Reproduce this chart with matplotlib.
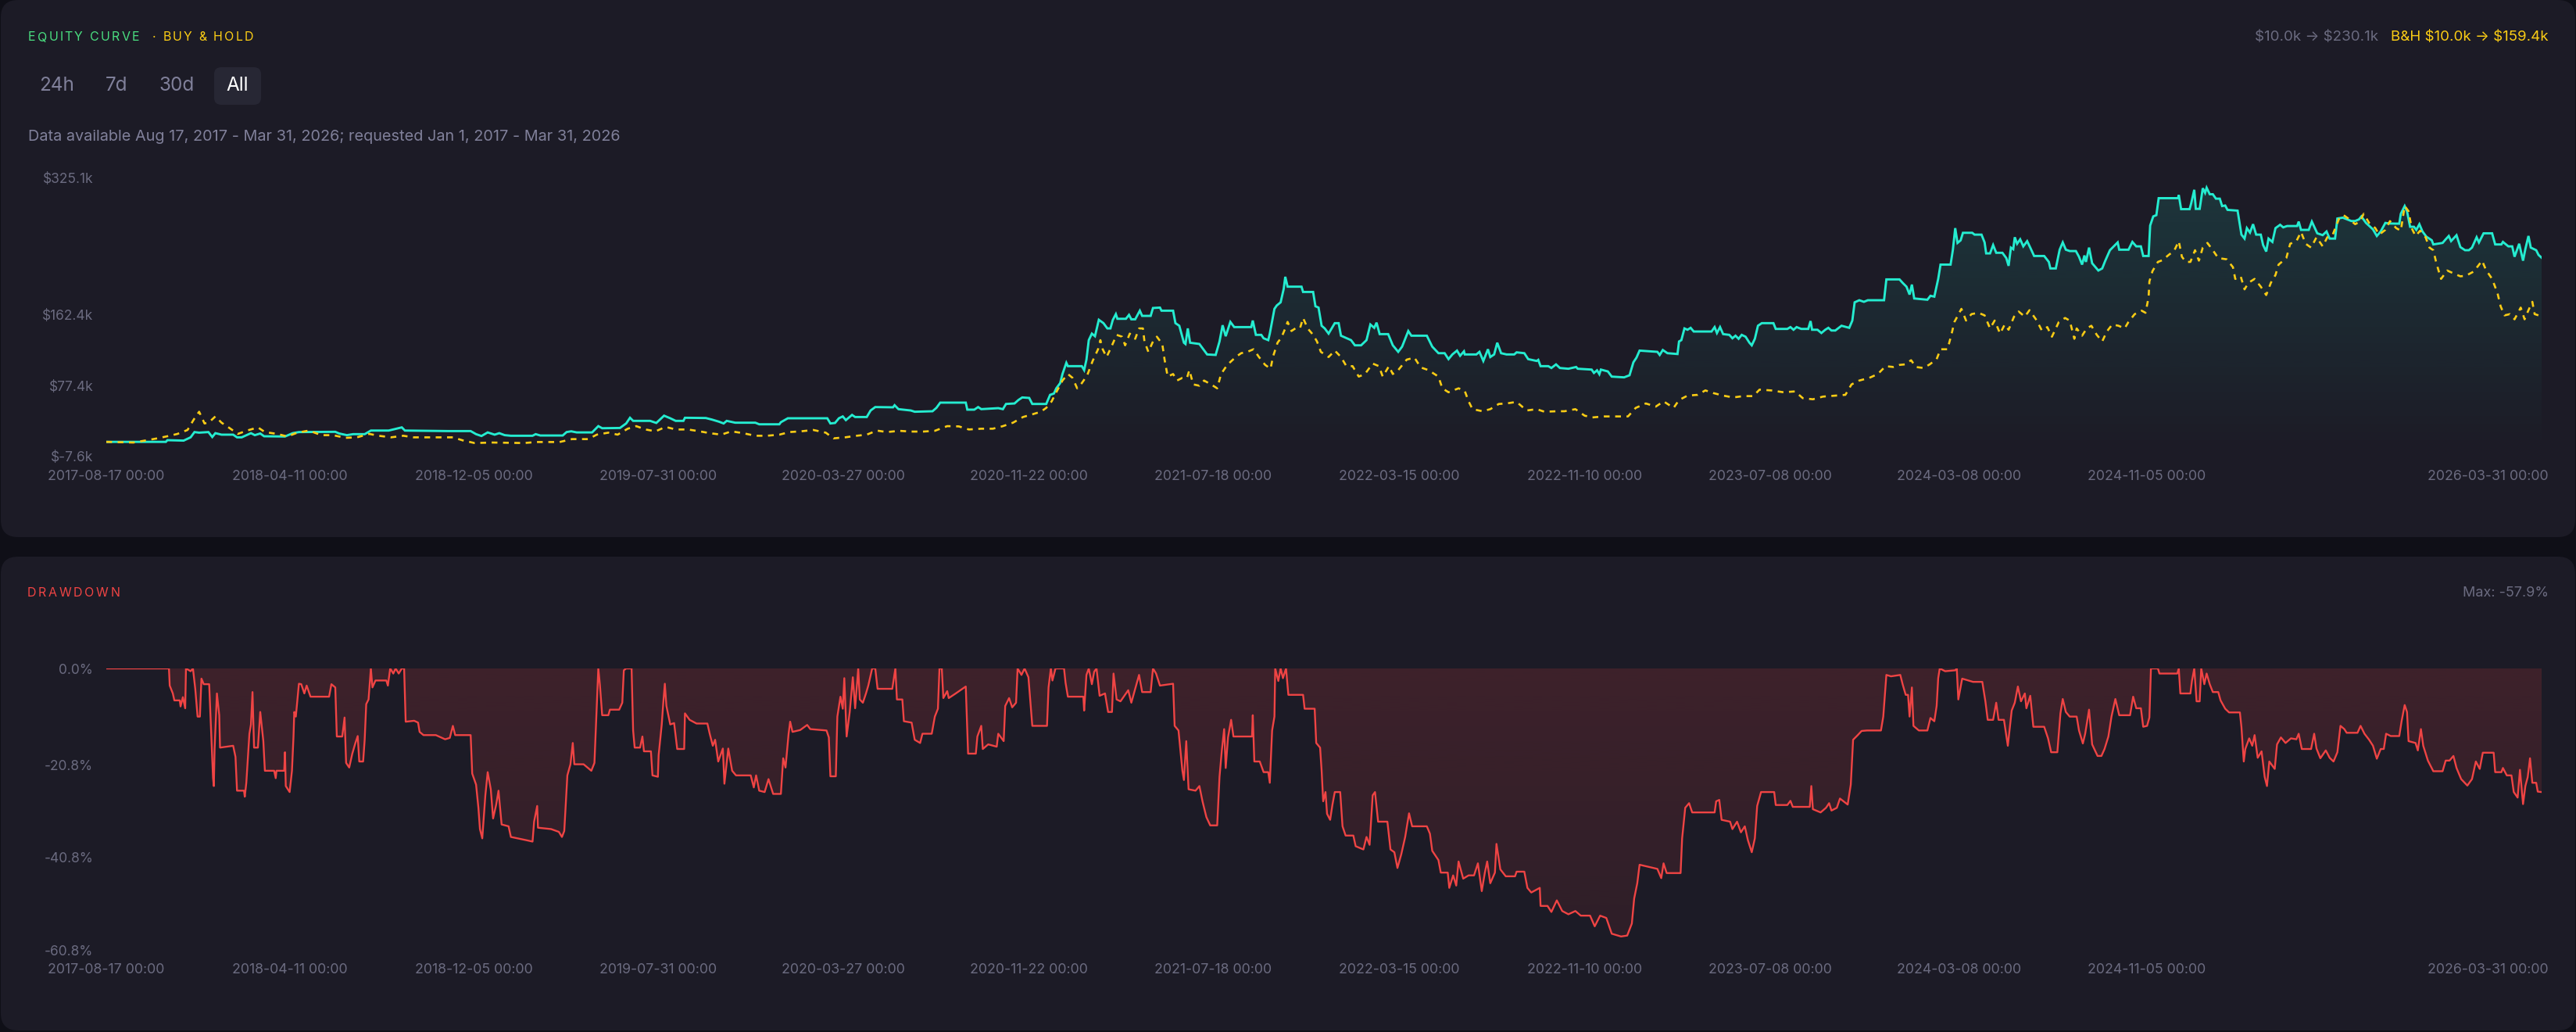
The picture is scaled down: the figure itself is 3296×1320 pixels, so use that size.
import numpy as np
import pandas as pd
import matplotlib
matplotlib.use("Agg")
import matplotlib.pyplot as plt
import matplotlib.dates as mdates
import matplotlib.colors as mcolors
from matplotlib.patches import FancyBboxPatch
from matplotlib.transforms import ScaledTranslation

plt.rcParams['font.family'] = ['Inter', 'DejaVu Sans']

# ---- data (days since START, value) ----
START = "2017-08-17"
END_DAY = 3148

tick_dates = ["2017-08-17", "2018-04-11", "2018-12-05", "2019-07-31", "2020-03-27",
              "2020-11-22", "2021-07-18", "2022-03-15", "2022-11-10", "2023-07-08",
              "2024-03-08", "2024-11-05", "2026-03-31"]

eq_ticks = [-7.6, 77.4, 162.4, 325.1]
eq_tick_labels = ["$-7.6k", "$77.4k", "$162.4k", "$325.1k"]
dd_ticks = [0.0, -20.8, -40.8, -60.8]
dd_tick_labels = ["0.0%", "-20.8%", "-40.8%", "-60.8%"]

# strategy equity, $k
equity_pts = [
    (0, 10.0), (77, 10.0), (79, 12.0), (100, 11.5), (109, 15.4), (114, 21.7), (120, 21.0), (132, 21.7),
    (137, 15.8), (141, 20.4), (149, 18.6), (164, 18.6), (169, 15.4), (175, 15.4), (187, 20.4), (192, 18.0),
    (199, 20.0), (204, 16.7), (231, 16.4), (241, 20.4), (249, 21.7), (296, 22.0), (301, 20.0), (311, 18.0),
    (319, 19.2), (334, 19.2), (342, 23.5), (365, 23.5), (375, 25.7), (382, 27.3), (386, 23.5), (442, 22.9),
    (471, 22.9), (478, 19.2), (485, 17.0), (493, 21.3), (502, 18.6), (508, 20.4), (515, 18.0), (523, 17.3),
    (551, 17.3), (555, 19.2), (561, 17.6), (590, 17.6), (595, 21.7), (601, 22.6), (608, 21.3), (628, 21.3),
    (636, 28.8), (641, 26.3), (664, 26.6), (672, 32.0), (677, 38.8), (681, 35.1), (703, 35.1), (711, 32.6),
    (721, 41.3), (729, 38.2), (736, 35.1), (746, 35.1), (748, 38.8), (775, 38.5), (783, 36.6), (792, 34.1),
    (798, 32.0), (802, 35.1), (813, 32.9), (839, 32.9), (844, 31.0), (870, 31.0), (872, 33.5), (881, 38.2),
    (932, 38.2), (936, 32.0), (942, 32.6), (947, 38.2), (952, 40.4), (956, 36.0), (964, 42.2), (968, 39.7),
    (983, 39.7), (988, 47.5), (994, 51.6), (1017, 51.3), (1019, 53.8), (1024, 49.1), (1040, 47.5), (1045, 46.0),
    (1068, 46.6), (1073, 50.6), (1078, 56.9), (1111, 56.9), (1113, 48.5), (1122, 48.5), (1127, 51.6), (1131, 49.1),
    (1153, 50.3), (1159, 49.1), (1163, 55.3), (1174, 55.9), (1179, 60.0), (1184, 63.1), (1193, 62.5), (1197, 55.3),
    (1215, 55.3), (1220, 66.2), (1225, 67.8), (1228, 74.0), (1233, 80.2), (1236, 91.1), (1241, 104.5), (1243, 100.5),
    (1261, 100.5), (1264, 95.8), (1267, 108.3), (1270, 131.6), (1274, 139.4), (1278, 136.3), (1283, 155.9),
    (1289, 151.9), (1294, 145.6), (1298, 145.6), (1301, 155.6), (1305, 162.7), (1307, 157.1), (1318, 157.1),
    (1322, 161.8), (1325, 156.5), (1330, 156.5), (1336, 166.8), (1339, 160.6), (1350, 160.6), (1353, 170.0),
    (1362, 170.5), (1364, 166.8), (1379, 166.8), (1382, 151.9), (1387, 148.8), (1393, 128.5), (1395, 127.0),
    (1398, 145.6), (1401, 128.5), (1413, 127.0), (1416, 123.2), (1423, 114.5), (1434, 113.9), (1439, 130.0),
    (1443, 149.4), (1447, 136.3), (1453, 153.4), (1458, 147.2), (1480, 147.2), (1482, 155.0), (1486, 137.9),
    (1493, 137.9), (1496, 133.8), (1502, 131.6), (1504, 139.4), (1510, 169.0), (1513, 173.0), (1518, 176.8),
    (1522, 193.0), (1524, 207.3), (1527, 195.5), (1545, 195.5), (1547, 189.2), (1560, 189.2), (1563, 172.1),
    (1567, 170.5), (1571, 148.8), (1575, 145.6), (1580, 139.4), (1588, 151.9), (1593, 151.9), (1596, 136.9),
    (1609, 131.6), (1614, 125.4), (1622, 125.4), (1629, 131.6), (1634, 150.3), (1639, 146.3), (1642, 152.5),
    (1646, 138.8), (1657, 138.8), (1663, 125.4), (1670, 117.6), (1675, 123.8), (1683, 142.5), (1687, 136.9),
    (1707, 136.9), (1714, 123.8), (1722, 116.0), (1730, 116.0), (1735, 108.9), (1740, 114.5), (1746, 119.1),
    (1750, 112.9), (1755, 118.2), (1756, 114.5), (1771, 114.5), (1775, 117.6), (1780, 106.7), (1786, 120.7),
    (1789, 111.4), (1794, 114.5), (1798, 128.5), (1803, 116.0), (1810, 114.5), (1820, 114.5), (1823, 117.0),
    (1833, 116.0), (1838, 108.9), (1849, 106.7), (1851, 108.0), (1854, 100.5), (1864, 100.5), (1868, 98.3),
    (1874, 102.6), (1879, 98.3), (1890, 97.4), (1900, 99.5), (1902, 97.4), (1920, 96.4), (1923, 92.4),
    (1927, 95.5), (1930, 90.9), (1932, 96.4), (1941, 94.2), (1946, 88.0), (1962, 87.1), (1969, 89.6),
    (1974, 105.1), (1978, 110.7), (1982, 119.1), (2005, 117.6), (2008, 113.9), (2012, 119.8), (2018, 116.0),
    (2031, 115.0), (2033, 130.0), (2036, 131.6), (2040, 145.6), (2044, 144.0), (2048, 146.3), (2052, 141.9),
    (2075, 141.9), (2079, 147.2), (2082, 140.1), (2086, 147.2), (2090, 138.8), (2098, 137.9), (2102, 133.8),
    (2106, 136.9), (2110, 133.2), (2114, 137.9), (2119, 135.7), (2124, 128.5), (2127, 125.4), (2131, 133.2),
    (2135, 148.8), (2140, 151.9), (2155, 151.9), (2158, 145.0), (2173, 145.0), (2177, 147.2), (2181, 144.0),
    (2185, 147.2), (2191, 145.0), (2200, 145.0), (2203, 154.4), (2205, 144.0), (2212, 144.0), (2217, 140.1),
    (2222, 144.0), (2226, 146.3), (2230, 143.1), (2235, 143.1), (2243, 148.8), (2253, 146.3), (2257, 155.0),
    (2260, 176.8), (2266, 179.3), (2272, 177.4), (2277, 179.3), (2298, 179.3), (2301, 204.2), (2318, 204.2),
    (2322, 200.1), (2327, 195.5), (2331, 186.1), (2334, 198.0), (2337, 181.4), (2354, 179.9), (2358, 184.6),
    (2363, 183.6), (2368, 204.8), (2371, 221.9), (2384, 221.9), (2387, 239.7), (2390, 265.5), (2393, 247.8),
    (2397, 250.9), (2400, 259.9), (2412, 259.9), (2415, 257.7), (2424, 257.7), (2428, 248.4), (2430, 235.3),
    (2435, 235.3), (2439, 245.3), (2443, 236.0), (2451, 236.0), (2456, 229.7), (2459, 220.4), (2462, 242.2),
    (2465, 240.3), (2467, 254.6), (2470, 246.8), (2474, 252.1), (2478, 243.7), (2483, 249.9), (2487, 242.2),
    (2492, 232.2), (2505, 232.2), (2511, 225.1), (2513, 217.3), (2520, 217.3), (2525, 239.7), (2529, 248.4),
    (2533, 239.7), (2538, 238.1), (2546, 238.1), (2550, 231.3), (2554, 221.9), (2557, 232.8), (2559, 225.1),
    (2563, 242.2), (2567, 223.5), (2575, 214.8), (2580, 217.3), (2584, 226.6), (2590, 239.1), (2600, 248.4),
    (2602, 239.7), (2614, 239.7), (2619, 249.0), (2624, 243.7), (2630, 243.7), (2633, 232.2), (2640, 232.2),
    (2642, 268.6), (2646, 279.5), (2650, 281.0), (2653, 301.3), (2678, 301.3), (2679, 305.0), (2682, 288.2),
    (2693, 288.2), (2695, 295.0), (2699, 311.3), (2701, 288.5), (2706, 288.5), (2710, 313.2), (2713, 307.6),
    (2715, 313.8), (2719, 306.0), (2723, 306.0), (2727, 300.7), (2732, 300.7), (2735, 291.9), (2739, 292.5),
    (2742, 287.3), (2755, 286.4), (2760, 257.7), (2764, 253.0), (2767, 265.5), (2771, 260.2), (2775, 270.2),
    (2779, 257.7), (2785, 257.7), (2788, 245.3), (2792, 237.5), (2795, 253.0), (2800, 249.0), (2804, 265.5),
    (2810, 269.5), (2814, 266.4), (2819, 268.0), (2832, 268.0), (2834, 273.3), (2837, 263.4), (2847, 263.4),
    (2851, 273.3), (2858, 259.3), (2865, 257.1), (2870, 261.5), (2874, 253.0), (2881, 253.0), (2884, 277.0),
    (2891, 278.0), (2902, 274.0), (2907, 274.0), (2912, 276.0), (2915, 279.5), (2921, 271.7), (2930, 264.0),
    (2935, 256.1), (2940, 261.5), (2946, 271.7), (2952, 271.0), (2964, 270.8), (2966, 282.6), (2971, 291.9),
    (2974, 285.7), (2978, 267.1), (2983, 267.1), (2986, 263.4), (2990, 270.2), (2994, 261.5), (2999, 255.3),
    (3006, 251.0), (3008, 246.0), (3020, 247.8), (3024, 252.1), (3028, 256.1), (3031, 250.0), (3038, 257.0),
    (3043, 242.8), (3049, 239.1), (3054, 239.1), (3058, 242.2), (3064, 254.6), (3067, 248.4), (3073, 259.3),
    (3084, 259.3), (3088, 246.0), (3096, 246.0), (3098, 249.0), (3105, 243.7), (3110, 243.7), (3113, 231.3),
    (3119, 246.8), (3124, 226.6), (3127, 240.6), (3131, 256.1), (3134, 242.2), (3141, 239.1), (3144, 233.5),
    (3148, 230.1),
]

# buy & hold, $k
bh_pts = [
    (0, 10.0), (35, 9.2), (51, 11.7), (66, 14.2), (82, 17.3), (92, 19.5), (105, 24.2), (113, 36.6), (120, 46.0),
    (127, 32.0), (133, 33.5), (141, 40.4), (149, 32.9), (159, 26.7), (170, 19.5), (182, 23.5), (196, 27.3),
    (205, 21.7), (221, 19.5), (234, 16.4), (247, 21.0), (262, 23.5), (278, 18.0), (293, 18.0), (309, 14.8),
    (324, 15.4), (340, 19.5), (352, 17.3), (368, 15.4), (384, 17.3), (397, 15.4), (448, 15.4), (461, 11.7),
    (476, 8.6), (499, 9.2), (540, 8.6), (556, 9.8), (586, 9.8), (602, 13.3), (623, 13.3), (634, 18.6),
    (649, 21.0), (661, 18.6), (674, 25.7), (685, 28.8), (697, 24.8), (710, 22.6), (723, 27.9), (736, 24.8),
    (752, 24.8), (767, 22.6), (780, 20.4), (795, 18.6), (808, 22.6), (823, 20.4), (839, 17.3), (854, 17.3),
    (870, 18.6), (883, 21.7), (898, 22.6), (914, 24.2), (930, 21.0), (940, 14.2), (955, 15.4), (970, 17.3),
    (983, 18.6), (996, 23.5), (1009, 21.7), (1025, 23.2), (1040, 22.3), (1056, 22.3), (1071, 23.2),
    (1087, 28.8), (1102, 28.5), (1115, 24.8), (1131, 25.7), (1146, 25.7), (1159, 28.8), (1172, 32.9),
    (1185, 39.7), (1197, 42.9), (1208, 46.0), (1215, 50.6), (1222, 58.4), (1228, 69.3), (1236, 83.3),
    (1243, 91.1), (1249, 86.5), (1255, 74.0), (1261, 80.2), (1268, 89.6), (1275, 106.7), (1282, 120.7),
    (1285, 131.6), (1288, 120.7), (1293, 111.4), (1299, 123.2), (1306, 137.9), (1313, 135.7), (1317, 125.4),
    (1323, 139.4), (1330, 133.2), (1335, 145.6), (1340, 145.6), (1342, 130.0), (1347, 117.6), (1353, 130.0),
    (1358, 135.7), (1365, 127.0), (1368, 108.3), (1372, 88.0), (1379, 91.1), (1384, 83.3), (1391, 86.5),
    (1397, 86.5), (1400, 95.8), (1405, 78.7), (1413, 77.1), (1419, 83.3), (1428, 78.7), (1436, 74.0),
    (1441, 91.1), (1449, 102.0), (1460, 111.4), (1467, 116.0), (1475, 117.6), (1483, 120.7), (1490, 111.4),
    (1498, 102.0), (1505, 97.4), (1508, 111.4), (1514, 128.5), (1519, 134.7), (1524, 145.6), (1527, 153.4),
    (1532, 142.5), (1537, 145.6), (1543, 145.6), (1547, 158.1), (1553, 145.6), (1560, 137.9), (1565, 130.0),
    (1570, 117.6), (1580, 111.4), (1588, 119.1), (1596, 111.4), (1603, 100.5), (1611, 100.5), (1619, 88.0),
    (1627, 91.1), (1637, 103.6), (1645, 100.5), (1650, 88.0), (1658, 100.5), (1663, 91.1), (1670, 95.8),
    (1681, 108.3), (1691, 110.7), (1699, 99.0), (1709, 95.8), (1722, 88.0), (1727, 74.0), (1735, 69.3),
    (1748, 74.0), (1756, 70.9), (1761, 58.4), (1766, 49.1), (1779, 46.6), (1789, 49.1), (1800, 55.3),
    (1810, 55.9), (1823, 57.8), (1836, 47.5), (1849, 49.1), (1859, 46.0), (1875, 46.6), (1885, 46.6),
    (1899, 49.1), (1911, 41.3), (1921, 39.2), (1936, 40.4), (1967, 40.4), (1977, 50.6), (1990, 55.9),
    (2003, 52.2), (2013, 58.4), (2026, 50.6), (2033, 60.0), (2044, 65.3), (2057, 66.2), (2067, 71.5),
    (2077, 68.4), (2090, 65.3), (2103, 63.1), (2116, 64.7), (2129, 64.7), (2137, 72.4), (2152, 71.5),
    (2168, 69.3), (2183, 70.3), (2193, 62.2), (2206, 60.9), (2219, 64.1), (2235, 65.3), (2248, 66.2),
    (2256, 78.7), (2266, 83.3), (2279, 86.5), (2290, 91.1), (2300, 100.5), (2310, 99.5), (2318, 102.0),
    (2325, 102.6), (2333, 107.6), (2339, 99.5), (2349, 98.3), (2357, 102.6), (2366, 108.9), (2371, 120.7),
    (2380, 120.7), (2385, 137.9), (2389, 153.4), (2398, 169.0), (2404, 155.0), (2411, 162.7), (2420, 164.3),
    (2428, 161.2), (2435, 145.6), (2441, 155.0), (2448, 139.4), (2454, 150.3), (2459, 144.0), (2466, 159.6),
    (2472, 165.8), (2480, 159.6), (2486, 167.4), (2495, 155.6), (2502, 143.1), (2509, 147.2), (2515, 135.7),
    (2524, 153.4), (2532, 158.1), (2538, 155.0), (2544, 133.2), (2547, 145.6), (2554, 136.9), (2560, 145.6),
    (2566, 148.8), (2573, 137.9), (2580, 130.0), (2586, 141.9), (2593, 150.3), (2601, 148.8), (2609, 145.6),
    (2614, 153.4), (2622, 162.7), (2631, 166.8), (2636, 164.3), (2640, 182.9), (2641, 201.7), (2645, 214.1),
    (2652, 225.1), (2658, 227.2), (2666, 233.5), (2673, 238.4), (2679, 249.9), (2683, 231.3), (2688, 225.1),
    (2694, 225.1), (2700, 239.1), (2705, 226.6), (2710, 242.2), (2716, 247.8), (2723, 239.1), (2730, 229.7),
    (2741, 228.2), (2749, 218.8), (2752, 204.8), (2759, 207.9), (2764, 192.3), (2769, 200.1), (2777, 204.8),
    (2785, 195.5), (2792, 185.5), (2798, 200.1), (2804, 209.5), (2808, 221.9), (2818, 229.7), (2823, 246.8),
    (2831, 249.9), (2837, 260.9), (2843, 246.8), (2850, 242.2), (2857, 254.6), (2865, 243.7), (2871, 254.6),
    (2878, 257.7), (2886, 276.4), (2892, 281.0), (2899, 276.4), (2907, 270.2), (2913, 273.3), (2918, 282.6),
    (2925, 271.7), (2933, 265.5), (2938, 257.7), (2946, 263.4), (2952, 273.9), (2960, 265.5), (2966, 262.4),
    (2971, 291.9), (2976, 285.7), (2980, 265.5), (2985, 256.1), (2991, 262.4), (2998, 254.6), (3003, 242.2),
    (3008, 239.1), (3012, 223.5), (3018, 204.8), (3026, 214.8), (3035, 211.0), (3043, 207.9), (3050, 208.5),
    (3060, 213.5), (3066, 220.4), (3071, 226.6), (3076, 215.7), (3084, 204.8), (3091, 187.7), (3095, 172.1),
    (3100, 161.2), (3107, 162.7), (3113, 156.5), (3121, 170.5), (3126, 156.5), (3131, 167.4), (3136, 177.4),
    (3139, 162.7), (3144, 161.2), (3148, 159.4),
]

# drawdown of the strategy, %
dd_pts = [
    (0, 0), (81, 0), (82, -3.7), (86, -5.4), (88, -6.9), (95, -6.9), (96, -8.2), (99, -6.2), (102, -8.6),
    (103, 0), (109, -0.6), (112, 0), (115, -4.4), (118, -10.4), (121, -10.4), (123, -2.2), (126, -3.4),
    (133, -3.4), (135, -11.4), (138, -23.7), (139, -25.4), (140, -17.4), (143, -5.4), (146, -10.1), (147, -17.1),
    (164, -16.7), (167, -19.1), (169, -26.4), (178, -26.4), (179, -27.7), (181, -24.7), (185, -14.1), (187, -12.1),
    (189, -5.1), (191, -17.1), (196, -17.1), (199, -9.4), (203, -15.7), (205, -22.1), (217, -22.1), (219, -23.7),
    (220, -22.1), (230, -22.1), (231, -18.1), (232, -25.4), (237, -26.7), (240, -22.1), (242, -14.7), (243, -9.4),
    (245, -10.4), (249, -3.3), (252, -3.4), (256, -5.4), (259, -3.7), (264, -6.1), (288, -6.1), (291, -3.4),
    (296, -4.1), (298, -14.7), (305, -14.7), (308, -10.6), (310, -20.4), (314, -21.4), (318, -18.4), (322, -16.1),
    (325, -14.6), (327, -20.1), (332, -20.1), (334, -15.4), (336, -7.7), (339, -6.7), (342, 0), (344, -4.1),
    (348, -2.6), (362, -2.6), (364, -3.7), (367, 0), (371, -1.1), (374, 0), (378, -1.1), (382, 0), (385, 0),
    (387, -11.5), (398, -11.3), (403, -11.7), (405, -13.7), (410, -14.4), (426, -14.4), (438, -15.3), (444, -15.0),
    (448, -12.4), (451, -14.4), (471, -14.4), (473, -22.7), (478, -25.1), (481, -30.1), (483, -34.7), (486, -36.7),
    (490, -27.4), (493, -22.4), (497, -26.1), (500, -32.4), (504, -29.4), (507, -26.4), (511, -33.7), (520, -34.1),
    (523, -36.4), (543, -37.1), (551, -37.4), (553, -33.1), (557, -29.7), (558, -34.4), (575, -34.7), (585, -35.3),
    (589, -36.4), (592, -35.1), (596, -23.1), (600, -20.7), (603, -16.1), (605, -20.7), (617, -20.7), (627, -22.1),
    (631, -20.4), (634, -8.1), (636, 0), (638, -3.4), (641, -10.1), (649, -10.1), (651, -8.9), (663, -8.9),
    (667, -7.4), (669, -0.4), (672, 0), (679, 0), (681, -13.4), (683, -17.1), (690, -17.1), (693, -14.7),
    (695, -17.9), (704, -17.9), (706, -23.1), (713, -23.4), (714, -18.7), (718, -12.1), (720, -7.4), (722, -3.3),
    (724, -8.1), (729, -12.1), (734, -11.8), (738, -17.4), (747, -17.4), (748, -9.7), (754, -11.1), (763, -11.9),
    (777, -11.9), (780, -14.1), (784, -16.7), (787, -15.4), (791, -20.1), (797, -17.3), (799, -24.9), (804, -17.3),
    (809, -22.1), (814, -23.1), (833, -23.1), (837, -25.7), (840, -23.1), (844, -26.4), (851, -26.7), (856, -23.9),
    (862, -27.1), (872, -27.1), (875, -19.4), (878, -21.4), (882, -14.1), (884, -11.5), (887, -13.7), (897, -13.3),
    (906, -12.2), (910, -13.1), (931, -13.4), (934, -14.9), (936, -23.3), (943, -23.3), (945, -10.4), (949, -6.1),
    (952, -8.7), (954, -2.1), (957, -14.7), (961, -9.4), (965, -1.9), (968, -8.6), (972, 0), (974, -6.7),
    (978, -7.4), (982, -5.4), (985, -3.7), (990, 0), (994, 0), (997, -4.4), (1016, -4.4), (1020, 0), (1022, -6.7),
    (1029, -6.7), (1031, -11.4), (1041, -11.7), (1045, -15.4), (1052, -16.1), (1055, -14.1), (1067, -14.1),
    (1071, -10.4), (1075, -8.7), (1077, 0), (1080, 0), (1082, -6.4), (1087, -4.9), (1089, -6.4), (1098, -5.4),
    (1111, -3.9), (1114, -18.4), (1124, -18.4), (1126, -14.7), (1131, -12.4), (1133, -17.4), (1140, -16.4),
    (1151, -16.9), (1153, -14.1), (1160, -15.7), (1162, -8.1), (1167, -6.4), (1171, -8.4), (1176, -7.4),
    (1178, 0), (1183, -1.4), (1187, 0), (1192, -1.9), (1197, -12.4), (1216, -12.4), (1218, -4.1), (1221, 0),
    (1223, -2.6), (1227, 0), (1238, 0), (1240, -3.1), (1243, -6.1), (1263, -6.1), (1264, -9.1), (1267, -1.4),
    (1270, 0), (1274, -3.4), (1277, -0.7), (1280, 0), (1284, -5.9), (1291, -5.4), (1295, -9.4), (1300, -9.4),
    (1302, -1.1), (1306, -6.7), (1311, -7.1), (1321, -4.7), (1325, -7.4), (1335, -1.4), (1339, -5.1),
    (1350, -5.1), (1353, 0), (1357, -1.1), (1362, -3.7), (1379, -3.3), (1381, -12.4), (1386, -13.4),
    (1391, -22.1), (1393, -24.1), (1396, -15.7), (1399, -26.1), (1408, -26.4), (1413, -25.4), (1417, -28.7),
    (1422, -32.1), (1427, -33.9), (1436, -33.9), (1439, -23.4), (1442, -17.7), (1445, -13.1), (1447, -21.5),
    (1450, -14.9), (1454, -11.1), (1457, -14.7), (1481, -14.7), (1482, -10.1), (1484, -20.1), (1491, -20.1),
    (1496, -22.4), (1502, -22.4), (1504, -24.7), (1507, -13.4), (1510, -10.4), (1511, 0), (1515, -2.7),
    (1518, 0), (1521, -2.1), (1525, 0), (1528, -5.7), (1547, -5.7), (1549, -8.7), (1562, -8.7), (1564, -16.1),
    (1569, -17.1), (1571, -22.1), (1573, -28.7), (1576, -26.7), (1578, -31.4), (1582, -32.7), (1585, -29.4),
    (1588, -26.7), (1595, -26.7), (1598, -34.1), (1602, -36.1), (1612, -36.1), (1615, -38.4), (1625, -39.1),
    (1629, -36.4), (1633, -38.1), (1637, -27.4), (1640, -26.7), (1644, -33.1), (1656, -33.1), (1660, -39.1),
    (1665, -39.7), (1669, -43.1), (1674, -40.1), (1679, -36.4), (1684, -31.3), (1688, -34.1), (1707, -34.1),
    (1711, -35.7), (1714, -39.4), (1722, -41.4), (1725, -44.1), (1734, -44.1), (1736, -47.4), (1741, -44.7),
    (1745, -46.9), (1748, -41.7), (1754, -45.4), (1761, -44.7), (1768, -44.7), (1773, -42.1), (1778, -48.1),
    (1782, -44.1), (1785, -41.7), (1789, -46.4), (1795, -44.1), (1797, -37.9), (1802, -43.4), (1809, -44.9),
    (1821, -44.9), (1823, -43.9), (1833, -43.9), (1837, -47.4), (1842, -48.4), (1853, -47.4), (1854, -51.3),
    (1863, -51.3), (1868, -52.6), (1875, -50.1), (1882, -52.4), (1890, -53.1), (1899, -52.4), (1906, -53.4),
    (1918, -53.4), (1924, -55.7), (1931, -53.4), (1939, -53.9), (1946, -57.3), (1958, -57.9), (1966, -57.7),
    (1972, -55.1), (1975, -49.7), (1979, -46.4), (1982, -42.4), (2005, -43.3), (2010, -45.3), (2013, -42.1),
    (2017, -44.2), (2035, -44.2), (2037, -36.7), (2041, -30.1), (2046, -29.1), (2050, -31.1), (2079, -31.1),
    (2081, -28.7), (2085, -28.4), (2088, -32.7), (2099, -33.1), (2102, -34.7), (2108, -33.1), (2113, -35.4),
    (2118, -34.1), (2122, -37.1), (2127, -39.7), (2131, -36.7), (2134, -29.7), (2139, -26.7), (2156, -26.7),
    (2158, -29.5), (2173, -29.5), (2177, -28.6), (2180, -29.9), (2202, -29.9), (2204, -25.4), (2206, -30.4),
    (2216, -31.1), (2223, -30.1), (2227, -29.1), (2230, -30.7), (2237, -30.1), (2241, -28.1), (2251, -29.4),
    (2255, -25.1), (2258, -15.4), (2264, -14.4), (2269, -13.5), (2276, -13.4), (2294, -13.4), (2297, -10.4),
    (2301, -1.4), (2307, -1.7), (2319, -1.4), (2322, -3.4), (2326, -5.7), (2329, -5.7), (2331, -10.4),
    (2334, -4.1), (2336, -12.4), (2343, -13.4), (2354, -13.4), (2358, -10.7), (2363, -11.4), (2366, -8.1),
    (2368, -2.1), (2370, 0), (2377, -0.6), (2390, -0.4), (2392, 0), (2394, -6.7), (2399, -2.2), (2413, -2.9),
    (2425, -2.9), (2429, -7.1), (2432, -11.1), (2439, -11.1), (2443, -7.4), (2446, -11.1), (2453, -11.1),
    (2458, -16.7), (2463, -9.1), (2467, -7.4), (2471, -3.9), (2475, -7.1), (2480, -5.4), (2482, -8.6),
    (2487, -5.9), (2491, -12.6), (2505, -12.6), (2510, -15.1), (2514, -18.1), (2522, -18.1), (2526, -9.7),
    (2529, -6.6), (2533, -9.4), (2538, -10.4), (2547, -10.4), (2550, -13.4), (2555, -16.2), (2558, -14.1),
    (2563, -8.9), (2567, -16.4), (2574, -18.9), (2579, -18.9), (2583, -17.4), (2588, -14.7), (2592, -10.4),
    (2597, -6.6), (2602, -10.1), (2616, -10.1), (2620, -6.1), (2624, -8.6), (2630, -8.6), (2633, -12.6),
    (2638, -12.4), (2641, -10.6), (2643, 0), (2652, 0), (2654, -1.1), (2677, -1.1), (2679, 0), (2681, -5.4),
    (2694, -5.4), (2696, -2.7), (2699, 0), (2702, -7.1), (2706, -7.1), (2708, 0), (2712, -3.4), (2715, -1.1),
    (2719, -3.4), (2723, -5.1), (2730, -5.1), (2733, -6.9), (2739, -8.7), (2744, -9.5), (2758, -9.5),
    (2760, -12.7), (2763, -20.1), (2765, -17.4), (2770, -15.1), (2774, -16.7), (2777, -14.4), (2781, -19.3),
    (2786, -17.9), (2790, -23.4), (2793, -25.4), (2796, -20.1), (2803, -21.7), (2806, -16.4), (2811, -14.9),
    (2817, -16.1), (2824, -15.1), (2831, -15.3), (2834, -14.1), (2838, -17.4), (2850, -17.4), (2854, -14.1),
    (2857, -17.3), (2862, -19.4), (2869, -17.7), (2874, -19.3), (2879, -20.1), (2884, -18.1), (2888, -12.4),
    (2893, -13.1), (2896, -13.9), (2910, -13.9), (2914, -12.4), (2919, -14.1), (2925, -15.4), (2930, -16.7),
    (2935, -19.5), (2940, -17.4), (2944, -17.4), (2947, -14.1), (2953, -14.6), (2964, -14.6), (2967, -11.4),
    (2971, -7.9), (2974, -9.4), (2976, -15.7), (2985, -16.1), (2988, -17.7), (2992, -13.1), (2995, -16.7),
    (3001, -19.9), (3008, -22.2), (3020, -22.2), (3024, -19.9), (3029, -19.9), (3034, -18.9), (3038, -21.5),
    (3044, -23.9), (3052, -25.3), (3058, -23.9), (3063, -20.1), (3068, -21.7), (3072, -18.2), (3086, -18.2),
    (3088, -22.4), (3096, -22.4), (3098, -21.5), (3103, -23.1), (3109, -23.1), (3112, -26.7), (3117, -27.9),
    (3120, -21.9), (3124, -29.3), (3127, -25.4), (3130, -23.5), (3133, -19.4), (3136, -24.7), (3141, -24.7),
    (3143, -26.6), (3148, -26.7),
]

# ---- style ----
W, H = 3296, 1320
BG = "#0f0f17"
PANEL = "#1c1b26"
MUTED = "#6b6b80"
SOFT = "#80809a"
TEAL = "#25ecd0"
YELLOW = "#facc15"
GREEN = "#4ade80"
RED = "#ef4444"


def to_dates(days):
    return pd.Timestamp(START) + pd.to_timedelta(np.asarray(days), unit="D")


def box(x0, y0, x1, y1, r, color):
    # pixel coords from the top-left corner
    p = FancyBboxPatch((x0 / 100, (H - y1) / 100), (x1 - x0) / 100, (y1 - y0) / 100,
                       boxstyle=f"round,pad=0,rounding_size={r / 100}",
                       transform=fig.dpi_scale_trans, facecolor=color, edgecolor="none", zorder=0)
    fig.add_artist(p)


def label(x, y, s, **kw):
    kw.setdefault("va", "center")
    fig.text(x / W, 1 - y / H, s, **kw)


def tracked(x, y, s, track, **kw):
    # letter-spaced caps: place each glyph, advance by the measured prefix width
    r = fig.canvas.get_renderer()
    probe = fig.text(0, 0, "|", **kw)
    bar = probe.get_window_extent(r).width
    for i, ch in enumerate(s):
        probe.set_text(s[:i] + "|")
        w = probe.get_window_extent(r).width - bar if i else 0
        label(x + w + i * track, y, ch, **kw)
    probe.remove()


def gradient_fill(ax, x, y, base, color, a_bottom, a_top):
    poly = ax.fill_between(x, y, base, facecolor="none", edgecolor="none")
    grad = np.zeros((256, 1, 4))
    grad[..., :3] = mcolors.to_rgb(color)
    grad[:, 0, 3] = np.linspace(a_bottom, a_top, 256)
    xn = mdates.date2num(x)
    lo, hi = min(base, np.min(y)), max(base, np.max(y))
    im = ax.imshow(grad, extent=[xn[0], xn[-1], lo, hi], origin="lower",
                   aspect="auto", interpolation="bilinear", zorder=1)
    im.set_clip_path(poly.get_paths()[0], transform=ax.transData)


def style_axes(ax, yticks, ylabels):
    for s in ax.spines.values():
        s.set_visible(False)
    ax.set_facecolor("none")
    ax.set_yticks(yticks, [l.replace("$", r"\$") for l in ylabels])
    ticks = to_dates([(pd.Timestamp(d) - pd.Timestamp(START)).days for d in tick_dates])
    ax.set_xticks(ticks, [d + " 00:00" for d in tick_dates])
    ax.tick_params(length=0, colors=MUTED)
    ax.tick_params(axis="y", pad=12, labelsize=12.5)
    ax.tick_params(axis="x", pad=12, labelsize=12.8)
    last = ax.get_xticklabels()[-1]
    last.set_ha("right")
    last.set_transform(last.get_transform() + ScaledTranslation(0.09, 0, fig.dpi_scale_trans))
    ax.set_xlim(to_dates([0])[0], to_dates([END_DAY])[0])


fig = plt.figure(figsize=(W / 100, H / 100), dpi=100, facecolor=BG)

box(1, 0, 3295, 687, 22, PANEL)
box(1, 712, 3295, 1318, 22, PANEL)

# ---- top panel ----
tracked(36, 48, "EQUITY CURVE", 2.2, color=GREEN, fontsize=11.5)
tracked(195, 48, "· BUY & HOLD", 2.1, color=YELLOW, fontsize=11.5)
label(3043, 48, r"\$10.0k → \$230.1k", color=MUTED, fontsize=13.5, ha="right")
label(3261, 48, r"B&H \$10.0k → \$159.4k", color=YELLOW, fontsize=13.5, ha="right")

box(274, 86, 334, 134, 9, "#272734")
for s, cx, c in [("24h", 73, SOFT), ("7d", 149, SOFT), ("30d", 226, SOFT), ("All", 304, "#ffffff")]:
    label(cx, 110, s, color=c, fontsize=17.5, ha="center")

label(36, 175, "Data available Aug 17, 2017 - Mar 31, 2026; requested Jan 1, 2017 - Mar 31, 2026",
      color=SOFT, fontsize=14.3)

eq_day, eq_val = np.array(equity_pts).T
bh_day, bh_val = np.array(bh_pts).T
x_eq, x_bh = to_dates(eq_day), to_dates(bh_day)

ax1 = fig.add_axes([136 / W, 1 - 584 / H, 3116 / W, 356 / H])
gradient_fill(ax1, x_eq, eq_val, eq_ticks[0], TEAL, 0.0, 0.13)
ax1.plot(x_eq, eq_val, color=TEAL, lw=2.1, zorder=3, solid_joinstyle="miter")
ax1.plot(x_bh, bh_val, color=YELLOW, lw=1.9, ls=(0, (2.8, 2.7)), zorder=4)
ax1.set_ylim(eq_ticks[0], eq_ticks[-1])
style_axes(ax1, eq_ticks, eq_tick_labels)

# ---- drawdown panel ----
tracked(35, 759, "DRAWDOWN", 2.6, color=RED, fontsize=11.5)
label(3261, 759, "Max: -57.9%", color=MUTED, fontsize=13, ha="right")

dd_day, dd_val = np.array(dd_pts).T
x_dd = to_dates(dd_day)

ax2 = fig.add_axes([136 / W, 1 - 1215 / H, 3116 / W, 360 / H])
gradient_fill(ax2, x_dd, dd_val, 0.0, RED, 0.09, 0.16)
ax2.plot(x_dd, dd_val, color=RED, lw=1.7, zorder=3)
ax2.set_ylim(dd_ticks[-1], dd_ticks[0])
style_axes(ax2, dd_ticks, dd_tick_labels)

fig.savefig("out.png", dpi=100, facecolor=BG)
